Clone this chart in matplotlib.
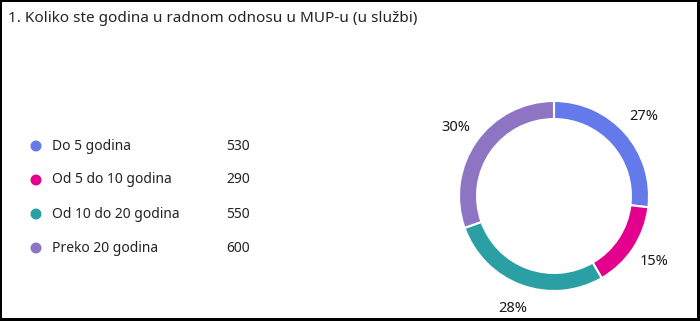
import matplotlib
matplotlib.use("Agg")
import matplotlib.pyplot as plt
from matplotlib.patches import Rectangle, Ellipse

title = "1. Koliko ste godina u radnom odnosu u MUP-u (u službi)"
categories = ["Do 5 godina", "Od 5 do 10 godina", "Od 10 do 20 godina", "Preko 20 godina"]
values = [530, 290, 550, 600]
colors = ["#6479EA", "#E3008C", "#2AA0A4", "#8E75C3"]

W, H = 700, 321
fig = plt.figure(figsize=(W / 100, H / 100), dpi=100)
fig.patch.set_facecolor("white")
plt.rcParams['font.family'] = ['Noto Sans', 'DejaVu Sans']

def fx(px):
    return px / W

def fy(py):
    return 1 - py / H

# border
for (x0, y0, w, h) in [(0, 0, 2, H), (W - 3, 0, 3, H), (0, 0, W, 2), (0, H - 3, W, 3)]:
    fig.add_artist(Rectangle((fx(x0), fy(y0 + h)), w / W, h / H, transform=fig.transFigure,
                             facecolor="black", edgecolor="none"))

fig.text(fx(8), fy(18), title, fontsize=11.0, color="#252423", va="center", ha="left")

# legend
ys = [146, 180, 214, 248]
for cat, val, col, y in zip(categories, values, colors, ys):
    fig.add_artist(Ellipse((fx(36), fy(y)), 11 / W, 11 / H, transform=fig.transFigure,
                           facecolor=col, edgecolor="none"))
    fig.text(fx(52), fy(y), cat, fontsize=10.0, color="#252423", va="center", ha="left")
    fig.text(fx(226), fy(y), str(val), fontsize=10.0, color="#252423", va="center", ha="left")

# donut
cx, cy, r = 554, 196, 95
lim = 1.35
side = 2 * lim * r
ax = fig.add_axes([fx(cx - side / 2), fy(cy + side / 2), side / W, side / H])
wedges, texts, autotexts = ax.pie(values, colors=colors, startangle=90, counterclock=False,
                                  radius=1, autopct='%.0f%%', pctdistance=1.26,
                                  wedgeprops=dict(width=0.19, edgecolor="white", linewidth=1.5),
                                  textprops=dict(fontsize=10.5, color="#1a1a1a"))
for t in autotexts:
    t.set_clip_on(False)
ax.set_xlim(-lim, lim)
ax.set_ylim(-lim, lim)
ax.set_aspect("equal")
ax.axis("off")

fig.savefig("out.png", dpi=100, facecolor="white")
